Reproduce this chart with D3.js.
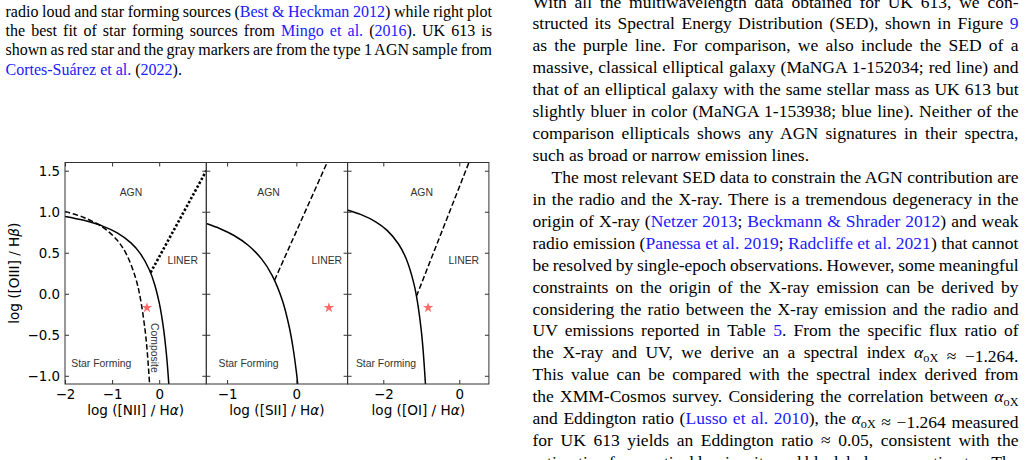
<!DOCTYPE html>
<html>
<head>
<meta charset="utf-8">
<script src="https://cdn.jsdelivr.net/npm/d3@7"></script>
<style>
  body { margin: 0; background: #fff; }
  svg { display: block; }
</style>
</head>
<body>
<div id="chart"></div>
<script>
////////////////////////////////////////////////////////////
//////////////////////// Data //////////////////////////////
////////////////////////////////////////////////////////////
var yRange = [-1.1, 1.6];
var yTicks = [-1.0, -0.5, 0.0, 0.5, 1.0, 1.5];

var xDomains = [[-2, 1], [-1.3, 0.74], [-2.94, 0.78]];
var xTicks = [[-2, -1, 0], [-1, 0], [-2, 0]];
var xLines = ['NII', 'SII', 'OI'];

// demarcation curves, points
var kewleyNII = [[-2.0, 0.943], [-1.6, 0.895], [-1.2, 0.825], [-0.9, 0.745], [-0.6, 0.620],
                 [-0.4, 0.489], [-0.2, 0.280], [-0.1, 0.120], [0.0, -0.108], [0.05, -0.262],
                 [0.1, -0.459], [0.15, -0.716], [0.18, -0.913], [0.204, -1.103]];
var kauffmannNII = [[-2.0, 1.002], [-1.6, 0.930], [-1.2, 0.812], [-0.9, 0.658], [-0.7, 0.487],
                    [-0.5, 0.191], [-0.4, -0.056], [-0.3, -0.443], [-0.25, -0.733], [-0.204, -1.102]];
var linerNII = [[-0.183, 0.258], [1.0, 1.5]];

var kewleySII = [[-1.3, 0.856], [-1.1, 0.793], [-0.9, 0.710], [-0.7, 0.594], [-0.5, 0.422],
                 [-0.35, 0.225], [-0.2, -0.085], [-0.1, -0.414], [-0.05, -0.646], [0.0, -0.950],
                 [0.02, -1.100]];
var linerSII = [[-0.315, 0.165], [0.5, 1.705]];

var kewleyOI = [[-2.95, 1.021], [-2.6, 0.967], [-2.2, 0.877], [-1.9, 0.773], [-1.6, 0.607],
                [-1.4, 0.429], [-1.2, 0.133], [-1.1, -0.101], [-1.0, -0.450], [-0.95, -0.698],
                [-0.89, -1.103]];
var linerOI = [[-1.128, -0.031], [0.3, 1.654]];

// UK 613 in each diagram
var uk613 = [[-0.26, -0.17], [0.47, -0.17], [-0.82, -0.17]];

// region names (data coords)
var regionNames = ['AGN', 'LINER', 'Star Forming'];
var regionPos = [
  [[-0.6, 1.23], [0.50, 0.41], [-1.23, -0.85]],
  [[-0.40, 1.23], [0.44, 0.41], [-0.69, -0.85]],
  [[-0.99, 1.23], [0.12, 0.41], [-1.93, -0.85]]
];
var compositePos = [-0.09, -0.66];

////////////////////////////////////////////////////////////
//////////////////////// Text //////////////////////////////
////////////////////////////////////////////////////////////
// segments: [text, kind]  kind: '' plain, 'b' link, 'a' alpha_oX
var captionLines = [
  [['radio loud and star forming sources ('], ['Best & Heckman 2012', 'b'], [') while right plot']],
  [['the best fit of star forming sources from '], ['Mingo et al.', 'b'], [' ('], ['2016', 'b'], ['). UK 613 is']],
  [['shown as red star and the gray markers are from the type 1 AGN sample from']],
  [['Cortes-Suárez et al.', 'b'], [' ('], ['2022', 'b'], [').']]
];
var bodyLines = [
  [['With all the multiwavelength data obtained for UK 613, we con-']],
  [['structed its Spectral Energy Distribution (SED), shown in Figure '], ['9', 'b']],
  [['as the purple line. For comparison, we also include the SED of a']],
  [['massive, classical elliptical galaxy (MaNGA 1-152034; red line) and']],
  [['that of an elliptical galaxy with the same stellar mass as UK 613 but']],
  [['slightly bluer in color (MaNGA 1-153938; blue line). Neither of the']],
  [['comparison ellipticals shows any AGN signatures in their spectra,']],
  [['such as broad or narrow emission lines.']],
  [['The most relevant SED data to constrain the AGN contribution are']],
  [['in the radio and the X-ray. There is a tremendous degeneracy in the']],
  [['origin of X-ray ('], ['Netzer 2013', 'b'], ['; '], ['Beckmann & Shrader 2012', 'b'], [') and weak']],
  [['radio emission ('], ['Panessa et al. 2019', 'b'], ['; '], ['Radcliffe et al. 2021', 'b'], [') that cannot']],
  [['be resolved by single-epoch observations. However, some meaningful']],
  [['constraints on the origin of the X-ray emission can be derived by']],
  [['considering the ratio between the X-ray emission and the radio and']],
  [['UV emissions reported in Table '], ['5', 'b'], ['. From the specific flux ratio of']],
  [['the X-ray and UV, we derive an a spectral index '], ['', 'a'], [' \u2248 \u22121.264.']],
  [['This value can be compared with the spectral index derived from']],
  [['the XMM-Cosmos survey. Considering the correlation between '], ['', 'a']],
  [['and Eddington ratio ('], ['Lusso et al. 2010', 'b'], ['), the '], ['', 'a'], [' \u2248 \u22121.264 measured']],
  [['for UK 613 yields an Eddington ratio \u2248 0.05, consistent with the']],
  [['estimation from optical luminosity and black hole mass estimates. The']]
];
var bodyLast = [7];      // paragraph ends (not justified)
var bodyIndent = [8];    // paragraph starts

////////////////////////////////////////////////////////////
//////////////////////// Set-Up ////////////////////////////
////////////////////////////////////////////////////////////
var width = 1026, height = 460;
var svg = d3.select('#chart').append('svg')
            .attr('width', width)
            .attr('height', height);
svg.append('rect').attr('width', width).attr('height', height).attr('fill', '#fff');

var linkColor = '#1a1aff';
var plotTop = 162.5, plotBottom = 384, plotLeft = 65, panelW = 141.3;
var chartFont = 'DejaVu Sans, sans-serif';

var y = d3.scaleLinear().domain(yRange).range([plotBottom, plotTop]);

var panels = [
  { curves: [{ d: kewleyNII, style: 'solid' }, { d: kauffmannNII, style: 'dash' }, { d: linerNII, style: 'dot' }] },
  { curves: [{ d: kewleySII, style: 'solid' }, { d: linerSII, style: 'dash' }] },
  { curves: [{ d: kewleyOI, style: 'solid' }, { d: linerOI, style: 'dash' }] }
];

var defs = svg.append('defs');

panels.forEach(function(p, i) {
  var x0 = plotLeft + i * panelW;
  var x = d3.scaleLinear().domain(xDomains[i]).range([x0, x0 + panelW]);
  var g = svg.append('g').attr('class', 'panel-' + i);

  defs.append('clipPath').attr('id', 'clip-' + i)
      .append('rect')
      .attr('x', x0).attr('y', plotTop)
      .attr('width', panelW).attr('height', plotBottom - plotTop);

  var lines = g.append('g').attr('clip-path', 'url(#clip-' + i + ')');

  p.curves.forEach(function(c) {
    var line = d3.line()
                 .x(function(d) { return x(d[0]); })
                 .y(function(d) { return y(d[1]); })
                 .curve(c.d.length > 2 ? d3.curveCatmullRom.alpha(0.5) : d3.curveLinear);
    var path = lines.append('path')
                    .attr('d', line(c.d))
                    .attr('fill', 'none')
                    .attr('stroke', '#000');
    if (c.style === 'solid') {
      path.attr('stroke-width', 1.5);
    } else if (c.style === 'dash') {
      path.attr('stroke-width', 1.5).attr('stroke-dasharray', '5.5,2.6');
    } else {
      path.attr('stroke-width', 2.6).attr('stroke-dasharray', '2.4,2.0');
    }
  });

  // UK 613
  lines.append('path')
       .attr('d', d3.symbol(d3.symbolStar, 34)())
       .attr('transform', 'translate(' + x(uk613[i][0]) + ',' + y(uk613[i][1]) + ')')
       .attr('fill', '#ff6a6a');

  // region names
  regionNames.forEach(function(name, k) {
    g.append('text')
     .attr('x', x(regionPos[i][k][0]))
     .attr('y', y(regionPos[i][k][1]))
     .attr('dy', '0.35em')
     .attr('text-anchor', 'middle')
     .style('font-family', 'Liberation Sans, Arial, sans-serif')
     .style('font-size', '10.4px')
     .style('fill', '#333')
     .text(name);
  });
  if (i === 0) {
    var cx = x(compositePos[0]), cy = y(compositePos[1]);
    g.append('text')
     .attr('transform', 'translate(' + cx + ',' + cy + ') rotate(90)')
     .attr('dy', '0.35em')
     .attr('text-anchor', 'middle')
     .style('font-family', 'Liberation Sans, Arial, sans-serif')
     .style('font-size', '10.4px')
     .style('fill', '#333')
     .text('Composite');
  }

  // axes (ticks inward on all sides)
  var axB = g.append('g').attr('transform', 'translate(0,' + plotBottom + ')')
             .call(d3.axisBottom(x).tickValues(xTicks[i]).tickSize(-4).tickPadding(5)
                     .tickFormat(d3.format('d')));
  var axT = g.append('g').attr('transform', 'translate(0,' + plotTop + ')')
             .call(d3.axisTop(x).tickValues(xTicks[i]).tickSize(-4).tickFormat(''));
  var axL = g.append('g').attr('transform', 'translate(' + x0 + ',0)')
             .call(d3.axisLeft(y).tickValues(yTicks).tickSize(-4).tickPadding(5)
                     .tickFormat(i === 0 ? d3.format('.1f') : ''));
  var axR = g.append('g').attr('transform', 'translate(' + (x0 + panelW) + ',0)')
             .call(d3.axisRight(y).tickValues(yTicks).tickSize(-4).tickFormat(''));
  [axB, axT, axL, axR].forEach(function(a) {
    a.select('.domain').remove();
    a.selectAll('line').attr('stroke', '#333');
    a.selectAll('text').style('font-family', chartFont).style('font-size', '13.4px').attr('fill', '#000');
  });

  // frame
  g.append('rect')
   .attr('x', x0).attr('y', plotTop)
   .attr('width', panelW).attr('height', plotBottom - plotTop)
   .attr('fill', 'none').attr('stroke', '#333').attr('stroke-width', 1);

  // x label
  var xl = g.append('text')
            .attr('x', x0 + panelW / 2)
            .attr('y', 414.5)
            .attr('text-anchor', 'middle')
            .style('font-family', chartFont)
            .style('font-size', '13.6px');
  xl.append('tspan').text('log ([' + xLines[i] + '] / H');
  xl.append('tspan').style('font-style', 'italic').text('\u03b1');
  xl.append('tspan').text(')');
});

// y label
var yl = svg.append('text')
            .attr('transform', 'translate(18.5,' + ((plotTop + plotBottom) / 2) + ') rotate(-90)')
            .attr('text-anchor', 'middle')
            .style('font-family', chartFont)
            .style('font-size', '13.6px');
yl.append('tspan').text('log ([OIII] / H');
yl.append('tspan').style('font-style', 'italic').text('\u03b2');
yl.append('tspan').text(')');

////////////////////////////////////////////////////////////
//////////////////////// Text blocks ///////////////////////
////////////////////////////////////////////////////////////
function writeLine(segs, xStart, xEnd, baseY, size, justify) {
  var t = svg.append('text')
             .attr('x', xStart)
             .attr('y', baseY)
             .style('font-family', 'Liberation Serif, Times New Roman, serif')
             .style('font-size', size + 'px')
             .attr('fill', '#000');
  var full = '';
  segs.forEach(function(s) {
    if (s[1] === 'a') {
      t.append('tspan').style('font-style', 'italic').text('\u03b1');
      t.append('tspan').attr('dy', size * 0.2).style('font-size', (size * 0.7) + 'px').text('oX');
      t.append('tspan').attr('dy', -size * 0.2).text('');
      full += 'aoX';
    } else {
      var ts = t.append('tspan').text(s[0]);
      if (s[1] === 'b') ts.attr('fill', linkColor);
      full += s[0];
    }
  });
  if (justify) {
    var natural = t.node().getComputedTextLength();
    var spaces = (full.match(/ /g) || []).length;
    if (spaces > 0) t.attr('word-spacing', (xEnd - xStart - natural) / spaces);
  }
}

captionLines.forEach(function(segs, k) {
  writeLine(segs, 5.5, 492, 17.2 + k * 19.1, 16, k < captionLines.length - 1);
});

bodyLines.forEach(function(segs, k) {
  var xs = bodyIndent.indexOf(k) >= 0 ? 551.5 : 532.5;
  writeLine(segs, xs, 1018.5, 7.5 + k * 21.93, 17.5, bodyLast.indexOf(k) < 0);
});
</script>
</body>
</html>
